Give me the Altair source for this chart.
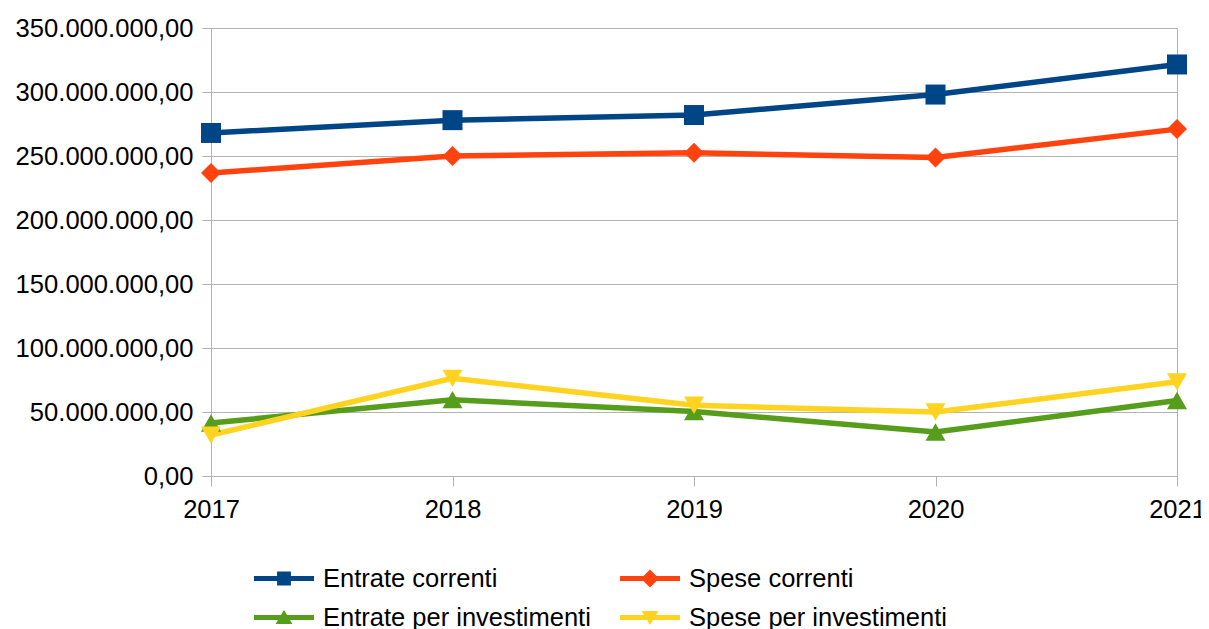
import altair as alt
import pandas as pd

years = [2017, 2018, 2019, 2020, 2021]
series_names = ["Entrate correnti", "Spese correnti", "Entrate per investimenti", "Spese per investimenti"]
entrate_correnti = [268.0e6, 278.0e6, 282.0e6, 298.0e6, 321.5e6]
spese_correnti = [236.7e6, 250.0e6, 252.5e6, 248.8e6, 271.0e6]
entrate_investimenti = [41.4e6, 59.6e6, 50.3e6, 34.4e6, 59.0e6]
spese_investimenti = [32.0e6, 76.3e6, 55.3e6, 50.0e6, 73.6e6]
colors = ["#004586", "#ff420e", "#579d1c", "#ffd320"]
shapes = ["square", "diamond", "triangle-up", "triangle-down"]
y_ticks = [0, 50e6, 100e6, 150e6, 200e6, 250e6, 300e6, 350e6]

line_part = "M-1,-0.085L1,-0.085L1,0.085L-1,0.085Z"
legend_shapes = [
    line_part + "M-0.23,-0.23L0.23,-0.23L0.23,0.23L-0.23,0.23Z",
    line_part + "M0,-0.3L0.3,0L0,0.3L-0.3,0Z",
    line_part + "M0,-0.25L0.28,0.22L-0.28,0.22Z",
    line_part + "M0,0.25L-0.28,-0.22L0.28,-0.22Z",
]

values = [entrate_correnti, spese_correnti, entrate_investimenti, spese_investimenti]
rows = []
for name, vals in zip(series_names, values):
    for yr, v in zip(years, vals):
        rows.append({"anno": yr, "serie": name, "valore": v})
df = pd.DataFrame(rows)

FONT = "Liberation Sans"
LFS = 25.5
SYM = 3600

x_enc = alt.X("anno:Q", scale=alt.Scale(domain=[2017, 2021], nice=False, zero=False),
              axis=alt.Axis(values=years, format="d", title=None, grid=False, labelFontSize=25.5,
                            tickSize=10, labelPadding=11, labelFlush=False))
y_enc = alt.Y("valore:Q", scale=alt.Scale(domain=[0, 350e6], nice=False),
              axis=alt.Axis(values=y_ticks, format=",.2f", title=None, grid=True, labelFontSize=25.6,
                            tickSize=9, labelPadding=9, labelLimit=400))

color_plain = alt.Color("serie:N", scale=alt.Scale(domain=series_names, range=colors), legend=None)

lines = alt.Chart(df).mark_line(strokeWidth=5.5).encode(
    x=x_enc, y=y_enc, color=color_plain, order=alt.Order("anno:Q"))

points = alt.Chart(df).mark_point(filled=True, opacity=1, size=400, strokeWidth=0).encode(
    x=x_enc, y=y_enc, color=color_plain,
    shape=alt.Shape("serie:N", scale=alt.Scale(domain=series_names, range=shapes), legend=None))


def make_legend():
    return alt.Legend(title=None, orient="none", legendX=43, legendY=531, direction="horizontal",
                      columns=2, symbolSize=SYM, clipHeight=39, values=series_names,
                      labelFont=FONT, labelFontSize=LFS, labelColor="#000000", labelLimit=500,
                      labelOffset=9, columnPadding=29, rowPadding=0, padding=0,
                      symbolStrokeWidth=0, symbolOpacity=1)


legend_layer = alt.Chart(df).mark_point(filled=True, opacity=1, size=SYM, strokeWidth=0, clip=True).encode(
    x=alt.value(-2000), y=alt.value(-2000),
    color=alt.Color("serie:N", scale=alt.Scale(domain=series_names, range=colors), legend=make_legend()),
    shape=alt.Shape("serie:N", scale=alt.Scale(domain=series_names, range=legend_shapes), legend=make_legend()),
)

chart = alt.layer(lines, points, legend_layer).resolve_scale(
    color="independent", shape="independent"
).properties(
    width=966, height=448,
    autosize=alt.AutoSizeParams(type="none"),
    padding={"left": 203, "top": 20, "right": 24, "bottom": 160},
).configure(
    locale=alt.Locale(number=alt.NumberLocale(decimal=",", thousands=".", grouping=[3], currency=["", " €"]))
).configure_view(
    stroke="#b3b3b3", strokeWidth=1
).configure_axis(
    labelFont=FONT, labelColor="#000000",
    domainColor="#b3b3b3", tickColor="#b3b3b3", gridColor="#b3b3b3",
    domainWidth=1, tickWidth=1, gridWidth=1,
)

chart.save("out.html", embed_options={"renderer": "svg", "actions": False})
